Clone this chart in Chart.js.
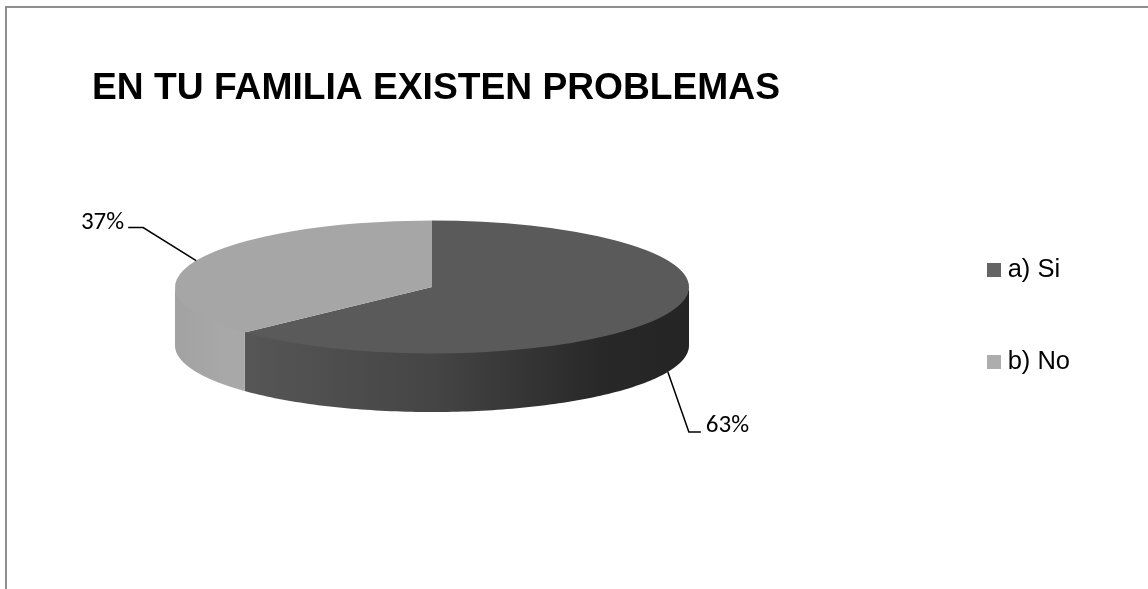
<!DOCTYPE html>
<html>
<head>
<meta charset="utf-8">
<style>
  html, body { margin: 0; padding: 0; background: #fff; overflow: hidden; }
  #wrap { width: 1148px; height: 589px; position: relative; }
</style>
<script src="https://cdn.jsdelivr.net/npm/chart.js@4"></script>
</head>
<body>
<div id="wrap"><canvas id="pieChart" width="1148" height="589"></canvas></div>
<script>
const categories = ['a) Si', 'b) No'];
const percents = [63, 37];
const chartTitle = 'EN TU FAMILIA EXISTEN PROBLEMAS';

// look of the flattened pie
const topColors = ['#5a5a5a', '#a6a6a6'];
const legendColors = ['#646464', '#adadad'];
const squash = 0.2588;
const depth = 58.5;
const centerX = 432;
const centerY = 287;
const radius = 257;

// leader line of each slice: elbow offset from the rim, length of the flat part, text offset
const leaderStyle = [
  { elbow: [21, 60], flat: 12, textX: 17, textY: -6, align: 'left' },
  { elbow: [-53, -33], flat: -15, textX: -19, textY: -5, align: 'right' }
];

function sideGradient(ctx, i) {
  const g = ctx.createLinearGradient(centerX - radius, 0, centerX + radius, 0);
  if (i === 0) {
    g.addColorStop(0.14, '#565656');
    g.addColorStop(0.5, '#454545');
    g.addColorStop(0.83, '#282828');
    g.addColorStop(1, '#242424');
  } else {
    g.addColorStop(0, '#a2a2a2');
    g.addColorStop(0.1, '#a8a8a8');
    g.addColorStop(1, '#aaaaaa');
  }
  return g;
}

function rimX(a) {
  return centerX + Math.cos(a) * radius;
}
function rimY(a, extra) {
  return centerY + Math.sin(a) * radius * squash + extra;
}

// little square for the legend, the label gap of the library is too wide for it
function swatch(color) {
  const c = document.createElement('canvas');
  c.width = 14;
  c.height = 14;
  const x = c.getContext('2d');
  x.fillStyle = color;
  x.fillRect(0, 0, 14, 14);
  return c;
}

const pie3d = {
  id: 'pie3d',
  beforeDraw(chart) {
    // frame, cut off on the right and at the bottom
    const ctx = chart.ctx;
    ctx.save();
    ctx.strokeStyle = '#8e8e8e';
    ctx.lineWidth = 2;
    ctx.beginPath();
    ctx.moveTo(6, 589);
    ctx.lineTo(6, 7);
    ctx.lineTo(1148, 7);
    ctx.stroke();
    ctx.restore();
  },
  beforeDatasetsDraw(chart) {
    const ctx = chart.ctx;
    const arcs = chart.getDatasetMeta(0).data;
    // side wall: only the part of each slice that faces the viewer
    arcs.forEach((arc, i) => {
      const a0 = Math.max(arc.startAngle, 0);
      const a1 = Math.min(arc.endAngle, Math.PI);
      if (a1 <= a0) return;
      ctx.save();
      ctx.fillStyle = sideGradient(ctx, i);
      ctx.beginPath();
      // top edge a bit under the pie so no white seam shows
      for (let k = 0; k <= 120; k++) {
        const a = a0 + (a1 - a0) * k / 120;
        ctx.lineTo(rimX(a), rimY(a, -1.5));
      }
      for (let k = 120; k >= 0; k--) {
        const a = a0 + (a1 - a0) * k / 120;
        ctx.lineTo(rimX(a), rimY(a, depth));
      }
      ctx.closePath();
      ctx.fill();
      ctx.restore();
    });
    ctx.save();
    ctx.translate(centerX - arcs[0].x, centerY);
    ctx.scale(1, squash);
    ctx.translate(0, -arcs[0].y);
  },
  afterDatasetsDraw(chart) {
    const ctx = chart.ctx;
    ctx.restore();
    const arcs = chart.getDatasetMeta(0).data;
    ctx.save();
    ctx.strokeStyle = '#000';
    ctx.lineWidth = 1.5;
    ctx.fillStyle = '#000';
    ctx.font = '25px Carlito, "Open Sans", "Noto Sans", sans-serif';
    ctx.textBaseline = 'middle';
    arcs.forEach((arc, i) => {
      const s = leaderStyle[i];
      const mid = (arc.startAngle + arc.endAngle) / 2;
      const fx = rimX(mid);
      const fy = rimY(mid, Math.sin(mid) > 0 ? depth : 0);
      ctx.beginPath();
      ctx.moveTo(fx, fy);
      ctx.lineTo(fx + s.elbow[0], fy + s.elbow[1]);
      ctx.lineTo(fx + s.elbow[0] + s.flat, fy + s.elbow[1]);
      ctx.stroke();
      ctx.textAlign = s.align;
      ctx.fillText(percents[i] + '%', fx + s.elbow[0] + s.textX, fy + s.elbow[1] + s.textY);
    });
    ctx.restore();
  }
};

new Chart(document.getElementById('pieChart').getContext('2d'), {
  type: 'pie',
  data: {
    labels: categories,
    datasets: [{
      data: percents,
      backgroundColor: topColors,
      borderWidth: 0,
      radius: radius
    }]
  },
  options: {
    responsive: false,
    animation: false,
    devicePixelRatio: 1,
    // top padding pushes the full height legend down, the title takes it back
    layout: { padding: { left: 92, right: 68, top: 43, bottom: 0 } },
    plugins: {
      tooltip: { enabled: false },
      title: {
        display: true,
        text: chartTitle,
        align: 'start',
        color: '#000',
        font: { family: 'Liberation Sans', size: 37.2, weight: 'bold' },
        padding: { top: 23, bottom: 30 }
      },
      legend: {
        position: 'right',
        align: 'center',
        labels: {
          usePointStyle: true,
          pointStyleWidth: 1,
          color: '#000',
          padding: 66.5,
          font: { family: 'Liberation Sans', size: 25.5 },
          generateLabels() {
            return categories.map((c, i) => ({
              text: c, pointStyle: swatch(legendColors[i]), fillStyle: legendColors[i], strokeStyle: legendColors[i], lineWidth: 0, index: i
            }));
          }
        }
      }
    }
  },
  plugins: [pie3d]
});
</script>
</body>
</html>
